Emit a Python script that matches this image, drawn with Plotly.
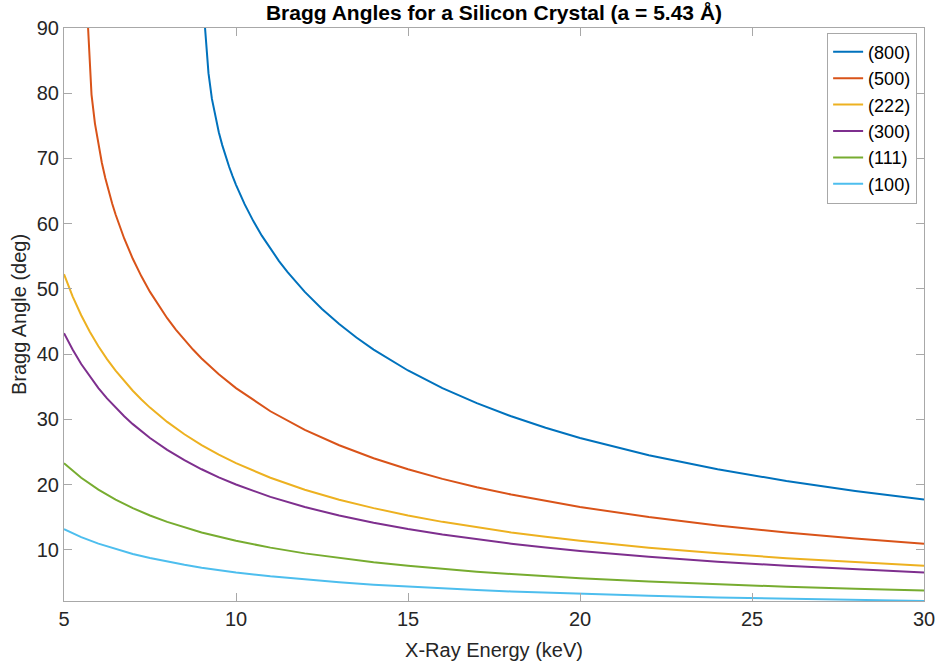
import plotly.graph_objects as go

# X-ray energy samples (keV) and Bragg angles (deg)
energy_low = [5, 5.5, 6, 6.5, 7, 7.5, 8, 8.5, 9, 10, 11, 12, 13, 14, 15, 16, 17, 18, 19, 20, 22, 24, 26, 28, 30]

angle_100 = [13.20, 11.98, 10.97, 10.12, 9.39, 8.76, 8.20, 7.72, 7.29, 6.56, 5.96, 5.46, 5.04, 4.68, 4.37,
             4.09, 3.85, 3.64, 3.45, 3.27, 2.98, 2.73, 2.52, 2.34, 2.18]
angle_111 = [23.30, 21.07, 19.24, 17.71, 16.41, 15.29, 14.31, 13.45, 12.69, 11.40, 10.36, 9.48, 8.75, 8.12,
             7.58, 7.10, 6.68, 6.31, 5.97, 5.67, 5.16, 4.73, 4.36, 4.05, 3.78]

energy_mid = [5, 5.25, 5.5, 5.75, 6, 6.25, 6.5, 6.75, 7, 7.25, 7.5, 8, 8.5, 9, 9.5, 10, 11, 12, 13, 14, 15, 16,
              17, 18, 19, 20, 22, 24, 26, 28, 30]
angle_300 = [43.23, 40.72, 38.51, 36.56, 34.81, 33.23, 31.80, 30.49, 29.29, 28.19, 27.17, 25.35, 23.76, 22.37,
             21.13, 20.03, 18.14, 16.58, 15.28, 14.16, 13.20, 12.36, 11.62, 10.97, 10.38, 9.86, 8.96, 8.20,
             7.57, 7.03, 6.56]
angle_222 = [52.27, 48.88, 45.98, 43.45, 41.23, 39.25, 37.48, 35.87, 34.40, 33.06, 31.82, 29.63, 27.73, 26.07,
             24.60, 23.30, 21.07, 19.24, 17.71, 16.41, 15.29, 14.31, 13.45, 12.69, 12.01, 11.40, 10.36, 9.48,
             8.75, 8.12, 7.58]

energy_500 = [5.7, 5.8, 5.9, 6.0, 6.1, 6.2, 6.3, 6.4, 6.5, 6.75, 7, 7.25, 7.5, 7.75, 8, 8.25, 8.5, 8.75, 9,
              9.5, 10, 11, 12, 13, 14, 15, 16, 17, 18, 19, 20, 22, 24, 26, 28, 30]
angle_500 = [90.0, 79.79, 75.35, 72.05, 69.35, 67.02, 64.97, 63.11, 61.42, 57.74, 54.63, 51.94, 49.56, 47.44,
             45.52, 43.78, 42.19, 40.72, 39.36, 36.93, 34.81, 31.26, 28.40, 26.05, 24.06, 22.37, 20.90, 19.62,
             18.49, 17.48, 16.58, 15.04, 13.76, 12.68, 11.76, 10.97]

energy_800 = [9.1, 9.2, 9.3, 9.4, 9.5, 9.6, 9.7, 9.8, 9.9, 10, 10.25, 10.5, 10.75, 11, 11.25, 11.5, 12, 12.5,
              13, 13.5, 14, 15, 16, 17, 18, 19, 20, 22, 24, 26, 28, 30]
angle_800 = [90.0, 83.08, 79.13, 76.31, 74.02, 72.05, 70.31, 68.74, 67.30, 65.97, 63.00, 60.44, 58.17, 56.13,
             54.28, 52.58, 49.56, 46.94, 44.63, 42.57, 40.72, 37.51, 34.81, 32.50, 30.49, 28.73, 27.17, 24.53,
             22.37, 20.57, 19.04, 17.72]

series = [
    ("(800)", energy_800, angle_800, "#0072BD"),
    ("(500)", energy_500, angle_500, "#D95319"),
    ("(222)", energy_mid, angle_222, "#EDB120"),
    ("(300)", energy_mid, angle_300, "#7E2F8E"),
    ("(111)", energy_low, angle_111, "#77AC30"),
    ("(100)", energy_low, angle_100, "#4DBEEE"),
]

x_ticks = [5, 10, 15, 20, 25, 30]
y_ticks = [10, 20, 30, 40, 50, 60, 70, 80, 90]

FONT = "Liberation Sans, Arial, Helvetica, sans-serif"
AXCOL = "#a8a8a8"
TXT = "#262626"

fig = go.Figure()
for name, xs, ys, col in series:
    fig.add_trace(go.Scatter(x=xs, y=ys, mode="lines", name=name,
                             line=dict(color=col, width=2)))

axis_common = dict(
    showgrid=False, zeroline=False, showline=True, linecolor=AXCOL, linewidth=1,
    mirror="ticks", ticks="inside", ticklen=8, tickcolor=AXCOL, tickwidth=1,
    tickfont=dict(family=FONT, size=20, color=TXT), automargin=False,
)

fig.update_layout(
    width=936, height=661,
    margin=dict(l=64, r=12, t=28, b=60),
    paper_bgcolor="white", plot_bgcolor="white",
    font=dict(family=FONT, size=20, color=TXT),
    title=dict(text="<b>Bragg Angles for a Silicon Crystal (a = 5.43 Å)</b>",
               x=(64 + 924) / 2 / 936, xanchor="center", y=1 - 13 / 661, yanchor="middle",
               font=dict(family=FONT, size=21, color="black")),
    xaxis=dict(range=[5, 30], tickvals=x_ticks, ticktext=[str(v) for v in x_ticks],
               title=dict(text="X-Ray Energy (keV)", font=dict(family=FONT, size=20, color=TXT), standoff=14),
               **axis_common),
    yaxis=dict(range=[2.18, 90], tickvals=y_ticks, ticktext=[str(v) for v in y_ticks],
               title=dict(text="Bragg Angle (deg)", font=dict(family=FONT, size=20, color=TXT), standoff=4),
               **axis_common),
    legend=dict(x=0.992, y=0.992, xanchor="right", yanchor="top",
                bgcolor="white", bordercolor=AXCOL, borderwidth=1,
                font=dict(family=FONT, size=18, color="black"),
                tracegroupgap=0, itemwidth=30),
    showlegend=True,
)

fig.write_html("out.html")
